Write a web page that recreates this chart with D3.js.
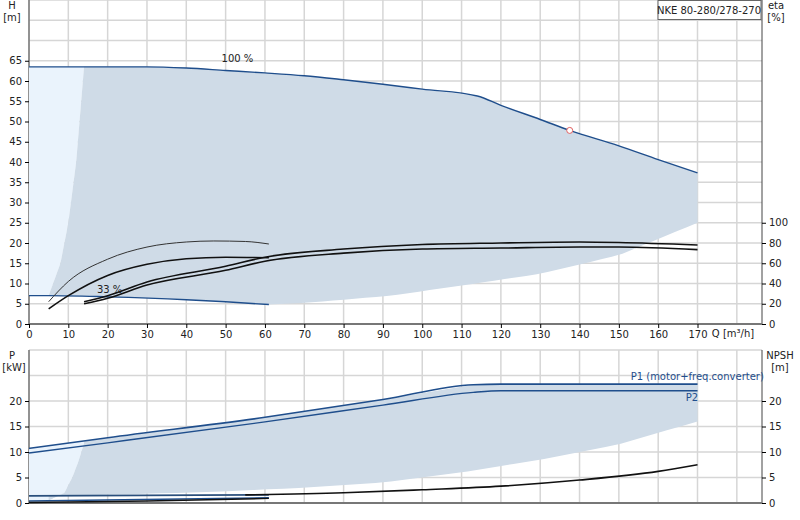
<!DOCTYPE html><html><head><meta charset="utf-8"><script src="https://cdn.jsdelivr.net/npm/d3@7"></script>
<style>body{margin:0;background:#fff}text{font-family:"DejaVu Sans",sans-serif;font-size:10px;fill:#222}</style></head><body><svg id="c" width="800" height="520"></svg>
<script>
const xTicks=[0,10,20,30,40,50,60,70,80,90,100,110,120,130,140,150,160,170];
const hTicks=[0,5,10,15,20,25,30,35,40,45,50,55,60,65];
const etaTicks=[0,20,40,60,80,100];
const pTicks=[0,5,10,15,20];
const h100=[[0,63.5],[14,63.5],[30,63.5],[40,63.2],[50,62.6],[60,62],[70,61.3],[80,60.3],[90,59.2],[100,58],[114,56.3],[120,54],[130,50.5],[137.5,47.8],[150,44],[160,40.6],[170,37.3]];
const h33=[[0,7],[5,7],[20,6.7],[40,6],[50,5.5],[61,4.8]];
const hLow=[[61,4.8],[70,5.2],[80,6],[92,7],[110,9.5],[130,12.4],[150,17],[170,25]];
const hLeft=[[5,7],[8,15],[10,25],[12,40],[14,63.5]];
const eta1=[[5,22],[10,42],[20,64],[30,76],[40,81],[47,82],[55,81.5],[61,79]];
const eta2=[[5,15],[10,28],[20,48],[30,59],[40,64.5],[50,66],[61,65.5]];
const eta3=[[14,22],[20,28],[30,41.5],[50,57],[60,66],[80,74],[100,78.5],[120,80],[140,81],[150,80.5],[170,78]];
const eta4=[[14,20],[20,25.5],[30,38.5],[50,53],[60,62],[80,70],[100,74],[120,75],[140,76],[150,76],[170,73.5]];
const p1=[[0,10.7],[20,12.8],[60,16.8],[90,20.3],[113,23.2],[120,23.3],[170,23.3]];
const p2=[[0,9.8],[20,11.8],[60,15.9],[90,19.2],[113,21.7],[120,22],[170,22]];
const pLow=[[14,1.5],[30,1.8],[50,2.3],[70,3],[90,4],[110,6],[130,8.5],[150,11.5],[170,16]];
const pLeft=[[5,0.5],[9,2],[11,5],[12.5,8],[14,11.7]];
const p33a=[[0,1.4],[61,1.6]];
const p33b=[[0,0.4],[61,1.0]];
const npsh33=[[0,0.1],[30,0.4],[61,0.9]];
const npsh=[[55,1.6],[80,2],[100,2.6],[120,3.3],[140,4.5],[160,6.2],[170,7.5]];

const svg=d3.select("#c");
const x=d3.scaleLinear().domain([0,186.4]).range([29,762]);
const yH=d3.scaleLinear().domain([0,80]).range([324,0]);
const yE=d3.scaleLinear().domain([0,320]).range([324,0]);
const yP=d3.scaleLinear().domain([0,30]).range([503,350]);
const grid="#d6d6d6";
function frame(y,top,bot,max){
  const g=svg.append("g");
  d3.range(0,190,10).forEach(v=>g.append("line").attr("x1",x(v)).attr("x2",x(v)).attr("y1",top).attr("y2",bot).attr("stroke",grid).attr("stroke-width",1.5));
  d3.range(5,max+1,5).forEach(v=>g.append("line").attr("x1",29).attr("x2",762).attr("y1",y(v)).attr("y2",y(v)).attr("stroke",grid).attr("stroke-width",1.5));
  g.append("line").attr("x1",29).attr("x2",29).attr("y1",top).attr("y2",bot).attr("stroke","#444");
  g.append("line").attr("x1",762).attr("x2",762).attr("y1",top).attr("y2",bot).attr("stroke","#444");
  g.append("line").attr("x1",29).attr("x2",762).attr("y1",bot).attr("y2",bot).attr("stroke","#777").attr("stroke-width",2);
}
frame(yH,0,324,80);frame(yP,350,503,30);
const L=(ys)=>d3.line().x(d=>x(d[0])).y(d=>ys(d[1])).curve(d3.curveMonotoneX);
const LY=(ys)=>d3.line().x(d=>x(d[0])).y(d=>ys(d[1])).curve(d3.curveMonotoneY);
function poly(pts,fill){svg.append("path").attr("d",d3.line()(pts)).attr("fill",fill);}
function sample(arr,ys,xf,n=40){const f=d3.scaleLinear().domain(arr.map(d=>d[0])).range(arr.map(d=>d[1]));return d3.range(n+1).map(i=>{const xv=arr[0][0]+(arr[arr.length-1][0]-arr[0][0])*i/n;return [x(xv),ys(f(xv))];});}
// upper light region
poly([[x(0),yH(63.5)],[x(14),yH(63.5)],...sample(hLeft,yH).reverse(),[x(0),yH(7)]],"#eaf3fc");
// upper dark region
const up=[...sample(hLeft,yH),...sample(h100.filter(d=>d[0]>=14),yH,null,80),[x(170),yH(25)],...sample(hLow,yH).reverse(),...sample(h33.filter(d=>d[0]>=5),yH).reverse()];
poly(up,"#cfdbe7");
// lower light
poly([[x(0),yP(10.7)],[x(14),yP(12.1)],...sample(pLeft,yP).reverse(),[x(0),yP(0.4)]],"#eaf3fc");
poly([...sample(pLeft,yP),...sample(p1.filter(d=>d[0]>=14).map((d,i)=>i==0?[14,12.1]:d),yP,null,80),[x(170),yP(16)],...sample(pLow,yP).reverse(),[x(5),yP(1.4)]],"#cfdbe7");
const blue="#1f4e8c";
function draw(arr,ys,c,w){svg.append("path").attr("d",L(ys)(arr)).attr("fill","none").attr("stroke",c).attr("stroke-width",w);}
draw(h100,yH,blue,1.4);draw(h33,yH,blue,1.4);
draw(eta1,yE,"#333",1);draw(eta2,yE,"#111",1.6);draw(eta3,yE,"#111",1.6);draw(eta4,yE,"#111",1.6);
draw(p1,yP,blue,1.6);draw(p2,yP,blue,1.4);draw(p33a,yP,"#2a4f7c",1.6);draw(p33b,yP,blue,1.6);
draw(npsh33,yP,"#111",1.4);draw(npsh,yP,"#111",1.6);
svg.append("circle").attr("cx",x(137.5)).attr("cy",yH(47.8)).attr("r",3).attr("fill","#fff").attr("stroke","#e06060");
// axes
svg.append("g").attr("transform","translate(0,324)").call(d3.axisBottom(x).tickValues(xTicks).tickSize(4)).call(g=>{g.select(".domain").remove();g.selectAll("text").style("font-size","10px");});
svg.append("g").attr("transform","translate(29,0)").call(d3.axisLeft(yH).tickValues(hTicks).tickSize(4)).call(g=>g.select(".domain").remove());
svg.append("g").attr("transform","translate(762,0)").call(d3.axisRight(yE).tickValues(etaTicks).tickSize(4)).call(g=>g.select(".domain").remove());
svg.append("g").attr("transform","translate(29,0)").call(d3.axisLeft(yP).tickValues(pTicks).tickSize(4)).call(g=>g.select(".domain").remove());
svg.append("g").attr("transform","translate(762,0)").call(d3.axisRight(yP).tickValues(pTicks).tickSize(4)).call(g=>g.select(".domain").remove());
svg.selectAll(".tick text").style("font-size","10px").style("fill","#222");
const T=(t,xx,yy,a,c)=>svg.append("text").attr("x",xx).attr("y",yy).attr("text-anchor",a||"start").style("fill",c||"#222").text(t);
T("H",12,9,"middle");T("[m]",12,21,"middle");T("eta",776,9,"middle");T("[%]",776,21,"middle");
T("P",12,359,"middle");T("[kW]",14,371,"middle");T("NPSH",780,359,"middle");T("[m]",780,371,"middle");
T("Q [m³/h]",733,337,"middle");
T("100 %",x(53),62,"middle");T("33 %",x(20.5),293,"middle");
T("P1 (motor+freq.converter)",x(153),380,"start",blue);T("P2",x(167),401,"start",blue);
svg.append("rect").attr("x",658).attr("y",0.5).attr("width",103).attr("height",19).attr("fill","#fff").attr("stroke","#666");
T("NKE 80-280/278-270",709,14,"middle");
</script></body></html>
